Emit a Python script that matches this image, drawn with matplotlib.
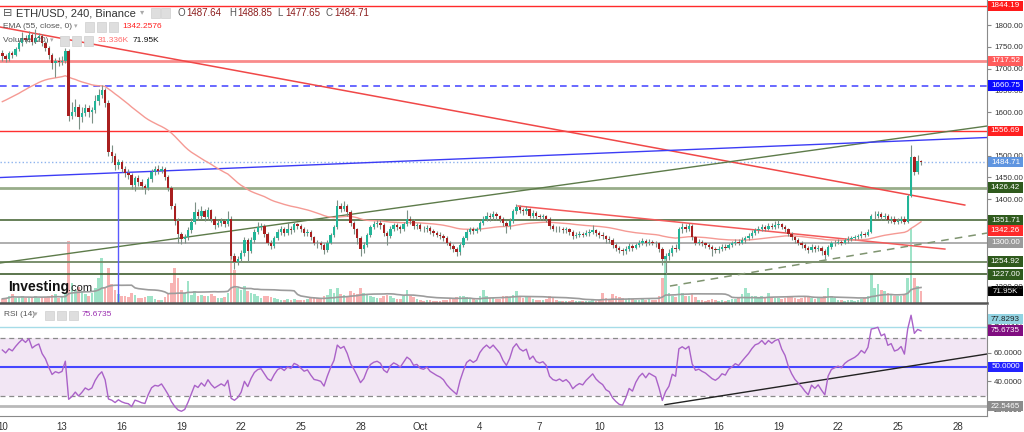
import numpy as np
import matplotlib.pyplot as plt
from matplotlib.patches import Rectangle

plt.rcParams['font.family'] = ['Liberation Sans', 'DejaVu Sans']

# ETH/USD 4h candles (Binance), Sep 10 00:00 -> Oct 26 04:00
first_open = 1735.0
closes = [
    1728, 1722, 1735, 1731, 1745, 1758,   # Sep 10
    1770, 1765, 1778, 1762, 1770, 1775,   # Sep 11
    1758, 1748, 1730, 1712, 1718, 1715,   # Sep 12
    1718, 1740, 1592, 1600, 1612, 1588,   # Sep 13
    1598, 1610, 1600, 1605, 1625, 1640,   # Sep 14
    1650, 1620, 1508, 1498, 1478, 1486,   # Sep 15
    1470, 1460, 1455, 1432, 1448, 1440,   # Sep 16
    1430, 1425, 1445, 1462, 1468, 1465,   # Sep 17
    1470, 1450, 1425, 1385, 1350, 1320,   # Sep 18
    1308, 1312, 1328, 1348, 1370, 1360,   # Sep 19
    1372, 1358, 1375, 1355, 1340, 1345,   # Sep 20
    1350, 1342, 1355, 1268, 1255, 1262,   # Sep 21
    1275, 1305, 1280, 1305, 1325, 1335,   # Sep 22
    1338, 1320, 1300, 1292, 1310, 1325,   # Sep 23
    1330, 1322, 1332, 1328, 1342, 1338,   # Sep 24
    1330, 1322, 1325, 1312, 1300, 1298,   # Sep 25
    1295, 1282, 1300, 1318, 1335, 1385,   # Sep 26
    1378, 1385, 1370, 1345, 1330, 1310,   # Sep 27
    1285, 1295, 1318, 1335, 1342, 1345,   # Sep 28
    1340, 1322, 1315, 1332, 1340, 1336,   # Sep 29
    1330, 1342, 1355, 1350, 1338, 1340,   # Sep 30
    1332, 1330, 1334, 1326, 1322, 1318,   # Oct 1
    1315, 1310, 1300, 1292, 1285, 1278,   # Oct 2
    1295, 1310, 1325, 1330, 1326, 1330,   # Oct 3
    1345, 1355, 1362, 1358, 1365, 1360,   # Oct 4
    1355, 1345, 1338, 1350, 1372, 1382,   # Oct 5
    1375, 1372, 1376, 1362, 1368, 1360,   # Oct 6
    1358, 1360, 1355, 1338, 1332, 1330,   # Oct 7
    1332, 1328, 1330, 1325, 1315, 1318,   # Oct 8
    1320, 1318, 1322, 1325, 1328, 1322,   # Oct 9
    1318, 1315, 1308, 1305, 1295, 1288,   # Oct 10
    1282, 1280, 1285, 1292, 1288, 1295,   # Oct 11
    1300, 1303, 1298, 1302, 1300, 1298,   # Oct 12
    1285, 1262, 1270, 1275, 1288, 1285,   # Oct 13
    1330, 1335, 1332, 1338, 1312, 1300,   # Oct 14
    1302, 1298, 1295, 1290, 1285, 1282,   # Oct 15
    1285, 1290, 1288, 1295, 1298, 1302,   # Oct 16
    1300, 1305, 1310, 1315, 1322, 1328,   # Oct 17
    1330, 1335, 1332, 1338, 1336, 1340,   # Oct 18
    1342, 1335, 1330, 1320, 1312, 1305,   # Oct 19
    1300, 1295, 1288, 1282, 1290, 1285,   # Oct 20
    1288, 1280, 1272, 1290, 1298, 1300,   # Oct 21
    1302, 1300, 1305, 1308, 1310, 1312,   # Oct 22
    1315, 1320, 1318, 1325, 1360, 1362,   # Oct 23
    1365, 1358, 1362, 1352, 1355, 1348,   # Oct 24
    1350, 1355, 1348, 1408, 1497, 1462,   # Oct 25
    1487.64, 1484.71,                     # Oct 26
]
highs = [
    1742, 1733, 1740, 1741, 1750, 1766,
    1784, 1776, 1786, 1782, 1790, 1782,
    1780, 1764, 1752, 1735, 1724, 1726,
    1728, 1748, 1744, 1622, 1630, 1618,
    1612, 1618, 1615, 1612, 1640, 1652,
    1662, 1655, 1628, 1525, 1505, 1492,
    1490, 1476, 1470, 1460, 1452, 1455,
    1446, 1435, 1450, 1468, 1476, 1478,
    1476, 1474, 1455, 1430, 1390, 1356,
    1325, 1320, 1335, 1356, 1394, 1378,
    1385, 1378, 1382, 1378, 1360, 1352,
    1356, 1354, 1372, 1360, 1275, 1270,
    1282, 1312, 1310, 1312, 1332, 1348,
    1346, 1342, 1325, 1305, 1315, 1330,
    1338, 1335, 1348, 1338, 1348, 1346,
    1342, 1335, 1332, 1328, 1315, 1306,
    1304, 1298, 1305, 1322, 1340, 1398,
    1392, 1396, 1388, 1374, 1350, 1334,
    1315, 1302, 1322, 1340, 1350, 1352,
    1352, 1344, 1326, 1338, 1346, 1345,
    1340, 1348, 1375, 1362, 1354, 1346,
    1344, 1338, 1340, 1338, 1330, 1326,
    1324, 1320, 1314, 1304, 1296, 1290,
    1300, 1316, 1330, 1336, 1335, 1336,
    1350, 1362, 1370, 1368, 1372, 1370,
    1364, 1358, 1350, 1356, 1378, 1388,
    1386, 1380, 1384, 1380, 1374, 1372,
    1366, 1366, 1364, 1358, 1342, 1338,
    1338, 1336, 1336, 1334, 1328, 1324,
    1326, 1325, 1328, 1330, 1340, 1332,
    1326, 1324, 1318, 1314, 1310, 1298,
    1292, 1288, 1292, 1298, 1296, 1300,
    1306, 1310, 1308, 1308, 1306, 1304,
    1302, 1290, 1275, 1285, 1294, 1296,
    1336, 1345, 1342, 1346, 1342, 1316,
    1308, 1306, 1302, 1300, 1294, 1290,
    1292, 1296, 1296, 1300, 1304, 1308,
    1308, 1312, 1316, 1322, 1328, 1334,
    1338, 1342, 1340, 1345, 1344, 1350,
    1352, 1346, 1340, 1334, 1324, 1316,
    1310, 1304, 1298, 1292, 1296, 1294,
    1294, 1292, 1284, 1295, 1304, 1306,
    1308, 1306, 1310, 1314, 1316, 1318,
    1320, 1326, 1325, 1330, 1366, 1372,
    1372, 1370, 1368, 1366, 1360, 1360,
    1356, 1360, 1360, 1412, 1524, 1500,
    1501, 1488.85,
]
lows = [
    1718, 1714, 1718, 1724, 1728, 1740,
    1752, 1758, 1760, 1755, 1758, 1764,
    1752, 1740, 1722, 1700, 1680, 1706,
    1708, 1712, 1580, 1585, 1592, 1560,
    1578, 1590, 1588, 1575, 1598, 1615,
    1632, 1612, 1500, 1485, 1466, 1470,
    1462, 1450, 1446, 1424, 1418, 1430,
    1422, 1412, 1420, 1440, 1455, 1458,
    1460, 1444, 1418, 1378, 1340, 1298,
    1296, 1300, 1305, 1322, 1342, 1352,
    1355, 1350, 1352, 1348, 1332, 1335,
    1338, 1335, 1338, 1262, 1240, 1248,
    1255, 1270, 1256, 1275, 1300, 1320,
    1328, 1312, 1294, 1284, 1288, 1305,
    1318, 1315, 1318, 1320, 1325, 1330,
    1325, 1315, 1316, 1306, 1294, 1288,
    1286, 1274, 1278, 1296, 1312, 1330,
    1370, 1372, 1362, 1338, 1320, 1296,
    1268, 1275, 1290, 1312, 1330, 1336,
    1332, 1315, 1294, 1310, 1326, 1328,
    1322, 1326, 1338, 1342, 1332, 1332,
    1326, 1324, 1325, 1320, 1316, 1312,
    1308, 1304, 1294, 1285, 1278, 1268,
    1272, 1290, 1305, 1320, 1320, 1322,
    1326, 1340, 1350, 1350, 1352, 1352,
    1348, 1338, 1322, 1332, 1346, 1366,
    1368, 1364, 1366, 1356, 1356, 1354,
    1352, 1352, 1348, 1332, 1326, 1324,
    1325, 1322, 1323, 1318, 1308, 1310,
    1312, 1312, 1314, 1316, 1320, 1316,
    1310, 1308, 1300, 1298, 1288, 1280,
    1275, 1272, 1274, 1280, 1280, 1284,
    1290, 1295, 1292, 1294, 1294, 1290,
    1278, 1248, 1228, 1260, 1268, 1278,
    1282, 1322, 1324, 1326, 1306, 1294,
    1294, 1292, 1288, 1284, 1268, 1276,
    1276, 1280, 1282, 1284, 1290, 1294,
    1294, 1296, 1300, 1306, 1310, 1318,
    1322, 1326, 1326, 1328, 1330, 1330,
    1334, 1330, 1324, 1314, 1306, 1298,
    1294, 1288, 1282, 1276, 1278, 1278,
    1280, 1272, 1262, 1268, 1286, 1292,
    1296, 1294, 1296, 1300, 1304, 1306,
    1308, 1310, 1312, 1314, 1322, 1354,
    1356, 1352, 1352, 1346, 1346, 1342,
    1342, 1346, 1342, 1345, 1405, 1455,
    1458, 1477.65,
]
# volume in thousands
volumes = [
    25, 30, 40, 55, 30, 35,
    40, 30, 35, 28, 45, 30,
    35, 38, 45, 50, 55, 30,
    35, 60, 370, 120, 80, 95,
    70, 55, 45, 60, 90, 150,
    270, 90, 210, 115, 80, 55,
    45, 40, 35, 60, 50, 30,
    30, 35, 40, 45, 25, 20,
    20, 35, 60, 120, 210, 150,
    80, 60, 130, 50, 75, 45,
    50, 40, 45, 55, 40, 30,
    30, 35, 60, 450, 200, 90,
    80, 100, 70, 60, 55, 45,
    30, 40, 45, 35, 30, 25,
    20, 18, 25, 20, 22, 18,
    18, 20, 22, 30, 35, 28,
    30, 45, 50, 84, 60, 90,
    55, 50, 45, 70, 60, 55,
    90, 60, 55, 45, 35, 30,
    30, 45, 50, 40, 30, 25,
    25, 40, 80, 45, 35, 25,
    20, 15, 18, 20, 15, 15,
    15, 18, 20, 28, 30, 35,
    40, 45, 35, 30, 25, 20,
    45, 80, 40, 30, 28, 25,
    25, 40, 45, 35, 50, 75,
    45, 30, 35, 40, 25, 20,
    20, 18, 25, 45, 30, 20,
    15, 12, 12, 15, 20, 15,
    12, 10, 12, 15, 18, 12,
    20, 60, 30, 25, 55, 40,
    35, 30, 25, 30, 25, 20,
    20, 22, 18, 25, 20, 18,
    40, 150, 270, 60, 45, 35,
    100, 60, 45, 40, 55, 35,
    20, 18, 15, 20, 25, 20,
    15, 18, 15, 20, 22, 25,
    35, 55, 90, 60, 45, 40,
    35, 40, 30, 60, 35, 30,
    30, 25, 28, 35, 40, 30,
    25, 28, 35, 40, 30, 25,
    30, 35, 45, 90, 40, 30,
    20, 18, 15, 18, 20, 15,
    20, 25, 30, 45, 175, 90,
    114, 80, 70, 60, 50, 45,
    40, 45, 50, 150, 450, 150,
    100, 71.95,
]

ema_seed = 1620.0            # EMA(55) value just before the first candle
rsi_seed = (9.0, 5.0)        # Wilder avg gain / avg loss before the first candle

day_offsets = [0, 3, 6, 9, 12, 15, 18, 21, 24, 27, 30, 33, 36, 39, 42, 45, 48]
day_labels = ['10', '13', '16', '19', '22', '25', '28', 'Oct', '4', '7',
              '10', '13', '16', '19', '22', '25', '28']

# horizontal levels drawn on the chart
level_prices = [1844.19, 1717.52, 1660.75, 1556.69, 1484.71,
                1426.42, 1351.71, 1300.00, 1254.92, 1227.00]
level_styles = [('#ff2a2a', 1.0, '-'), ('#f98b8b', 2.0, '-'), ('#4f4fff', 1.2, (0, (4, 3))),
                ('#ff3030', 1.0, '-'), ('#8db3ee', 1.0, ':'), ('#98ad8a', 2.0, '-'),
                ('#4d6b3c', 1.2, '-'), ('#a8a8a8', 1.3, '-'), ('#6f8762', 1.3, '-'),
                ('#3f5d2f', 1.2, '-')]

# trend lines (candle index, price)
red_main = ([-0.7, 290.2], [1795.4, 1386.2])
red_second = ([155.5, 284.2], [1384.0, 1285.0])
green_long = ([-0.7, 296.9], [1252.9, 1567.8])
blue_line = ([-0.7, 296.9], [1449.4, 1541.4])
blue_vertical_x = 34.9
green_dashed = ([201.3, 296.9], [1200.0, 1321.8])
rsi_trend = ([199.8, 296.9], [23.6, 59.1])

# right-side price labels: text, price position, background, text colour
price_tags = [('1844.19', 1844.19, '#ff1a1a', 'white'), ('1717.52', 1717.52, '#ff5c5c', 'white'),
              ('1660.75', 1660.75, '#0a0aff', 'white'), ('1556.69', 1556.69, '#ff2020', 'white'),
              ('1484.71', 1484.71, '#5f95e0', 'white'), ('1426.42', 1426.42, '#2f5a1d', 'white'),
              ('1351.71', 1351.71, '#2f5a1d', 'white'), ('1342.26', 1327.5, '#ff2a2a', 'white'),
              ('1300.00', 1300.0, '#9a9a9a', 'white'), ('1254.92', 1256.0, '#2f5a1d', 'white'),
              ('1227.00', 1227.0, '#2f5a1d', 'white')]
rsi_tags = [('77.8293', 83.5, '#92d3e2', '#222'), ('75.6735', 75.67, '#800d80', 'white'),
            ('50.0000', 50.0, '#2323ff', 'white'), ('22.5465', 22.55, '#8c8c8c', 'white')]

W, H = 1024, 432
PLOT_W = 987


def fx(x):
    return x / W


def fy(y):
    return 1 - y / H


closes = np.array(closes, dtype=float)
highs = np.array(highs, dtype=float)
lows = np.array(lows, dtype=float)
volumes = np.array(volumes, dtype=float)
idx = np.arange(len(closes))
opens = np.r_[first_open, closes[:-1]]
up = closes >= opens

# EMA 55
ema = []
e = ema_seed
for c in closes:
    e = e + (c - e) * 2 / 56
    ema.append(e)

# RSI 14 (Wilder)
rsi = []
g, l = rsi_seed
for o, c in zip(opens, closes):
    d = c - o
    g = (g * 13 + max(d, 0)) / 14
    l = (l * 13 + max(-d, 0)) / 14
    rsi.append(100 - 100 / (1 + g / l))

# volume SMA 20
vol_ma = np.array([volumes[max(0, i - 19):i + 1].mean() for i in idx])

fig = plt.figure(figsize=(10.24, 4.32), dpi=100)
vax = fig.add_axes([0, fy(303), fx(PLOT_W), 303 / H])
ax = fig.add_axes([0, fy(303), fx(PLOT_W), 303 / H], sharex=vax)
rax = fig.add_axes([0, fy(416), fx(PLOT_W), 111 / H], sharex=vax)
ax.patch.set_visible(False)

x0, x1 = -0.7, 296.9
vax.set_xlim(x0, x1)

# volume
vax.bar(idx, volumes, width=0.8, color=np.where(up, '#9fe3c8', '#f8b3b3'), linewidth=0)
vax.plot(idx, vol_ma, color='#9c9c9c', lw=1.2)
vax.set_ylim(0, 303 * 6)
vax.axis('off')

# levels and trend lines
for p, (col, lw, ls) in zip(level_prices, level_styles):
    ax.axhline(p, color=col, lw=lw, ls=ls, zorder=1)
ax.plot(*red_main, color='#f04848', lw=1.1, zorder=2)
ax.plot(*red_second, color='#f45a5a', lw=1.1, zorder=2)
ax.plot(*green_long, color='#5d7b4a', lw=1.0, zorder=2)
ax.plot(*blue_line, color='#3c3cf5', lw=1.0, zorder=2)
ax.plot(*green_dashed, color='#7f9470', lw=1.1, ls=(0, (5, 4)), zorder=2)
y_at = np.interp(blue_vertical_x, blue_line[0], blue_line[1])
ax.vlines(blue_vertical_x, 1100, y_at, color='#5a5aff', lw=1.0, zorder=2)
ax.plot(idx, ema, color='#f59a94', lw=1.0, zorder=2)

# candles
ax.vlines(idx, lows, highs, color='#7c9085', lw=0.8, zorder=3)
ax.bar(idx, np.maximum(np.abs(closes - opens), 1.2), bottom=np.minimum(opens, closes),
       width=0.72, color=np.where(up, '#22b598', '#a81f1f'), linewidth=0, zorder=4)

ax.set_ylim(1161, 1857.5)
ax.yaxis.tick_right()
yt = np.arange(1200, 1801, 50)
ax.set_yticks(yt)
ax.set_yticklabels([f'{v:.2f}' for v in yt])
ax.tick_params(axis='y', labelsize=5.8, labelcolor='#333333', length=3, color='#888888', pad=2)
ax.tick_params(axis='x', bottom=False, labelbottom=False)
for s in ['left', 'top']:
    ax.spines[s].set_visible(False)
ax.spines['right'].set_color('#8a8a8a')
ax.spines['bottom'].set_color('#555555')
ax.spines['bottom'].set_linewidth(1.8)


def tag(axis, pos, txt, bg, fg, box_h):
    # fixed-size label box on the right axis, x in axes fraction, y in data units
    tr = axis.get_yaxis_transform()
    axis.add_patch(Rectangle((1.001, pos - box_h / 2), 35 / PLOT_W, box_h, transform=tr,
                             fc=bg, ec='none', clip_on=False, zorder=9))
    axis.text(1.001 + 17.5 / PLOT_W, pos, txt, transform=tr, ha='center', va='center',
              fontsize=5.8, color=fg, clip_on=False, zorder=10)


for txt, pos, bg, fg in price_tags:
    tag(ax, pos, txt, bg, fg, 10.5 / 0.435)
tag(vax, 71.95, '71.95K', 'black', 'white', 10.5 * 6)

# RSI pane
rax.axhspan(30, 70, color='#f2e6f4', lw=0, zorder=0)
rax.axhline(70, color='#8a8a8a', lw=0.9, ls=(0, (4, 3)))
rax.axhline(30, color='#8a8a8a', lw=0.9, ls=(0, (4, 3)))
rax.axhline(50, color='#4646ff', lw=1.5)
rax.axhline(77.8293, color='#a6dce8', lw=1.0)
rax.axhline(22.5465, color='#b9b9b9', lw=2.0)
rax.plot(*rsi_trend, color='#222222', lw=1.0)
rax.plot(idx, rsi, color='#aa62c8', lw=1.0)
rax.set_ylim(15.7, 93.4)
rax.yaxis.tick_right()
rax.set_yticks([20, 40, 60, 80])
rax.set_yticklabels(['20.0000', '40.0000', '60.0000', '80.0000'])
rax.tick_params(axis='y', labelsize=5.8, labelcolor='#333333', length=3, color='#888888', pad=2)
rax.set_xticks([d * 6 for d in day_offsets])
rax.set_xticklabels(day_labels)
rax.tick_params(axis='x', labelsize=7, labelcolor='#333333', length=0, pad=4)
for s in ['left', 'top']:
    rax.spines[s].set_visible(False)
rax.spines['right'].set_color('#8a8a8a')
rax.spines['bottom'].set_color('#8a8a8a')
for txt, pos, bg, fg in rsi_tags:
    tag(rax, pos, txt, bg, fg, 10.5 / 1.43)


# header texts
def icons(xs, y, size=9):
    for x in xs:
        fig.add_artist(Rectangle((fx(x), fy(y + size / 2)), size / W, size / H,
                                 transform=fig.transFigure, fc='#dedede', ec='#cfcfcf', lw=0.5))


fig.text(fx(3), fy(13), '\u229f', fontsize=8, color='#555555', va='center')
fig.text(fx(16), fy(13), 'ETH/USD, 240, Binance', fontsize=8, color='#333333', va='center')
fig.text(fx(140), fy(13), '\u25be', fontsize=6, color='#aaaaaa', va='center')
icons([151, 161], 13)
ohlc = [('O', '1487.64', 178), ('H', '1488.85', 229), ('L', '1477.65', 277), ('C', '1484.71', 326)]
for k, v, x in ohlc:
    fig.text(fx(x), fy(13), k, fontsize=7, color='#555555', va='center')
    fig.text(fx(x + 8), fy(13), v, fontsize=7, color='#8b1c1c', va='center')

fig.text(fx(3), fy(27), 'EMA (55, close, 0)', fontsize=6, color='#555555', va='center')
fig.text(fx(74), fy(27), '\u25be', fontsize=5, color='#aaaaaa', va='center')
icons([85, 97, 109], 27)
fig.text(fx(122), fy(27), '1342.2576', fontsize=6, color='#ff2020', va='center')

fig.text(fx(3), fy(41), 'Volume (20)', fontsize=6, color='#555555', va='center')
fig.text(fx(50), fy(41), '\u25be', fontsize=5, color='#aaaaaa', va='center')
icons([60, 72, 84], 41)
fig.text(fx(98), fy(41), '31.336K', fontsize=6, color='#ff6b6b', va='center')
fig.text(fx(133), fy(41), '71.95K', fontsize=6, color='#111111', va='center')

fig.text(fx(4), fy(315), 'RSI (14)', fontsize=6, color='#555555', va='center')
fig.text(fx(34), fy(315), '\u25be', fontsize=5, color='#aaaaaa', va='center')
icons([45, 57, 69], 315)
fig.text(fx(82), fy(315), '75.6735', fontsize=6, color='#9b30b0', va='center')

fig.text(fx(8), fy(287), 'Investing', fontsize=10, weight='bold', color='#111111', va='center')
fig.text(fx(68), fy(288), '.com', fontsize=8, color='#222222', va='center')

fig.savefig('out.png', dpi=100)
